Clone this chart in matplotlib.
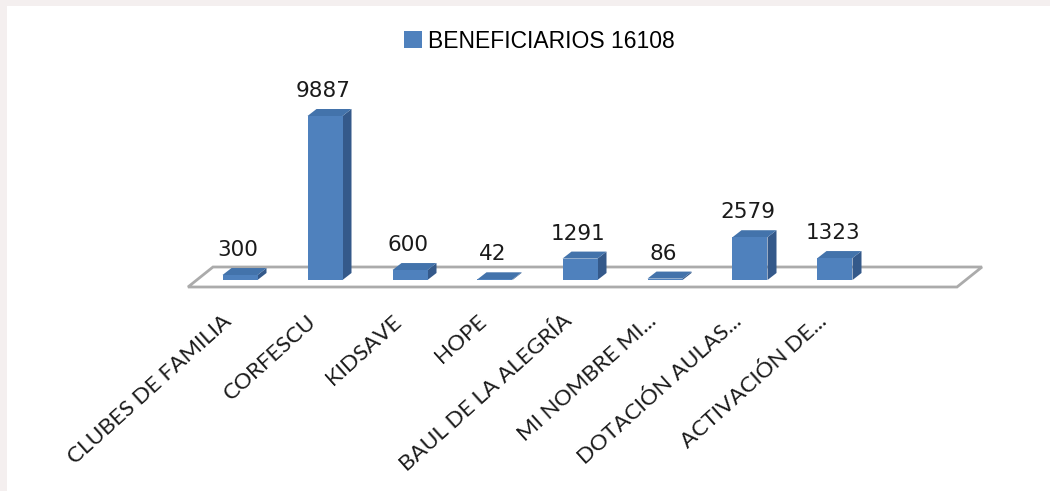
import matplotlib.pyplot as plt
from matplotlib.patches import Polygon, Rectangle, Patch

categories = ['CLUBES DE FAMILIA', 'CORFESCU', 'KIDSAVE', 'HOPE', 'BAUL DE LA ALEGRÍA',
              'MI NOMBRE MI...', 'DOTACIÓN AULAS...', 'ACTIVACIÓN DE...']
beneficiarios = [300, 9887, 600, 42, 1291, 86, 2579, 1323]
series_name = 'BENEFICIARIOS 16108'

W, H = 1050, 491
# layout in pixels
x0, step = 240, 85          # first bar centre, bar spacing
base = 280                  # bar bottom (from top)
k = 164 / 9887              # px per unit
bw = 35 / step
dx, dy = 9 / step, 7 / k

front_c = '#4f81bd'
top_c = '#4373ab'
side_c = '#34598a'

fig = plt.figure(figsize=(W / 100, H / 100), dpi=100, facecolor='#f4efef')
fig.patches.append(Rectangle((7 / W, 0), 1, 1 - 6 / H, transform=fig.transFigure,
                             facecolor='white', edgecolor='none', zorder=-10))
ax = fig.add_axes([0, 0, 1, 1])
ax.set_xlim(-x0 / step, (W - x0) / step)
ax.set_ylim((base - H) / k, base / k)
ax.axis('off')

# floor
fl, fr = (188 - x0) / step, (957 - x0) / step
fy0, fy1 = -7 / k, 13 / k
sh = 25 / step
ax.add_patch(Polygon([(fl, fy0), (fr, fy0), (fr + sh, fy1), (fl + sh, fy1)],
                     closed=True, facecolor='white', edgecolor='#ababab', lw=2, zorder=1))

for i, v in enumerate(beneficiarios):
    l, r = i - bw / 2, i + bw / 2
    ax.add_patch(Polygon([(r, 0), (r + dx, dy), (r + dx, v + dy), (r, v)],
                         closed=True, facecolor=side_c, edgecolor='none', zorder=2))
    ax.add_patch(Polygon([(l, v), (r, v), (r + dx, v + dy), (l + dx, v + dy)],
                         closed=True, facecolor=top_c, edgecolor='none', zorder=2))
    ax.add_patch(Rectangle((l, 0), bw, v, facecolor=front_c, edgecolor='none', zorder=3))
    ax.annotate(str(v), xy=(i, v), xytext=(-2, 19), textcoords='offset pixels',
                ha='center', va='baseline', fontsize=15.5, color='#1a1a1a', zorder=4)
    ax.annotate(categories[i], xy=(i, 0), xytext=(-18, -31), textcoords='offset pixels',
                ha='right', va='top', rotation=42, rotation_mode='anchor',
                fontsize=16.2, family='Lato', color='#1a1a1a')

ax.legend(handles=[Patch(facecolor=front_c)], labels=[series_name], loc='center',
          bbox_to_anchor=(539 / W, 1 - 41 / H), bbox_transform=fig.transFigure,
          frameon=False, handlelength=0.8, handleheight=0.8, handletextpad=0.25,
          prop={'family': 'Liberation Sans', 'size': 16.5})

fig.savefig('out.png', dpi=100, facecolor=fig.get_facecolor())
